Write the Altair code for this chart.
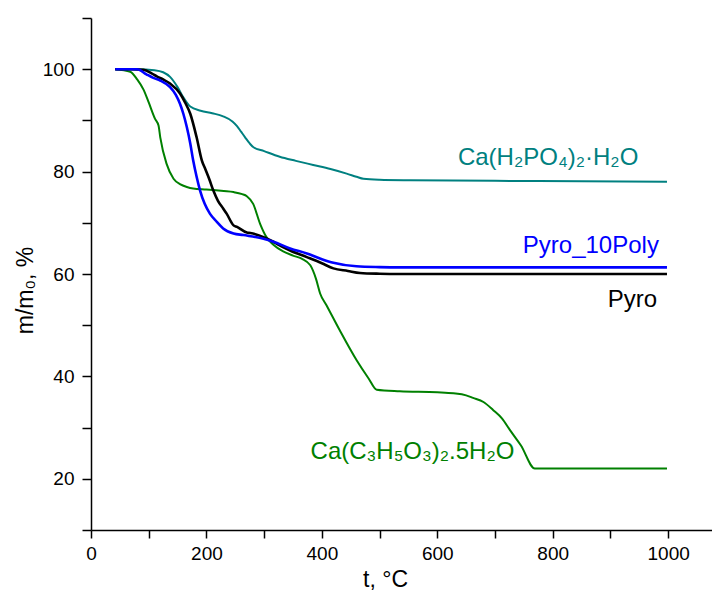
import altair as alt
import pandas as pd

# Thermogravimetric curves: temperature (°C) vs. residual mass (%)
teal_t = [42, 80, 110, 125, 137, 150, 160, 172, 190, 210, 229, 245, 253, 260, 267,
          275, 281, 300, 327, 355, 385, 415, 443, 460, 472, 500, 553, 700, 850, 998]
teal_v = [100, 100, 99.8, 99.4, 98.5, 96.5, 94.5, 92.7, 91.9, 91.4, 90.8, 89.8, 88.9, 87.8, 86.7,
          85.5, 84.8, 84.0, 82.9, 82.1, 81.3, 80.5, 79.6, 79.0, 78.6, 78.4, 78.3, 78.2, 78.1, 78.0]

green_t = [42, 68, 80, 91, 100, 111, 117, 120, 131, 143, 155, 166, 177, 200, 230, 247, 262, 270,
           281, 293, 304, 316, 333, 350, 365, 380, 390, 397, 408, 431, 460, 481, 495, 535, 600,
           628, 650, 662, 680, 697, 712, 726, 745, 769, 800, 900, 998]
green_v = [100, 99.5, 98, 96, 93.5, 90.3, 89, 86.7, 81.5, 78.6, 77.5, 77, 76.7, 76.5, 76.2, 76, 75.6, 75.2,
           73.7, 69.8, 67.2, 65.7, 64.4, 63.6, 63, 61.7, 59, 56.2, 53.9, 49, 43.2, 39.6, 37.4, 37.1, 36.9,
           36.7, 36.3, 35.8, 35, 33.4, 31.8, 29.5, 26.5, 22, 22, 22, 22]

black_t = [42, 70, 91, 105, 114, 125, 137, 154, 163, 172, 183, 192, 198, 205, 212, 220, 229, 235,
           247, 253, 270, 276, 299, 316, 322, 345, 374, 400, 420, 445, 466, 500, 535, 700, 998]
black_v = [100, 100, 99.9, 99.2, 98.6, 98, 97.2, 95.3, 93.5, 91.3, 86.7, 82.2, 80.5, 78.5, 76.3, 74.3, 72.8, 71.8,
           69.5, 69.2, 68.1, 68.0, 67.2, 66.3, 65.9, 64.6, 63.3, 62.1, 61.1, 60.6, 60.2, 60.05, 60.0, 60.0, 60.0]

blue_t = [42, 80, 96, 108, 120, 137, 147, 154, 160, 166, 172, 177, 183, 189, 197, 206, 218, 229,
          247, 264, 299, 316, 345, 374, 400, 420, 460, 500, 535, 700, 998]
blue_v = [100, 100, 99, 98.3, 97.8, 96.5, 95, 93.3, 91.3, 88.7, 85.5, 82.2, 79, 76.3, 73.7, 71.8, 70.2, 68.9,
          67.9, 67.6, 66.9, 66.3, 65.0, 64.0, 62.9, 62.2, 61.5, 61.35, 61.3, 61.3, 61.3]

# Curve labels placed next to their curves (data coordinates)
label_text = ["Ca(H₂PO₄)₂·H₂O", "Pyro_10Poly", "Pyro", "Ca(C₃H₅O₃)₂.5H₂O"]
label_t = [792, 984, 981, 557]
label_v = [82.6, 65.4, 54.9, 25.2]

x_ticks = list(range(0, 1001, 100))
y_ticks = list(range(10, 111, 10))

FONT = "Liberation Sans"

x_scale = alt.Scale(domain=[0, 1076], nice=False, zero=False)
y_scale = alt.Scale(domain=[10, 110], nice=False, zero=False)

x_axis = alt.Axis(
    values=x_ticks, labelExpr="datum.value % 200 == 0 ? format(datum.value, 'd') : ''",
    grid=False, domainColor="black", domainWidth=1.5, tickColor="black", tickWidth=1.5,
    tickSize=8, labelFont=FONT, labelFontSize=19, labelColor="black", labelPadding=6,
    labelFlush=False, title="t, °C", titleFont=FONT, titleFontSize=23,
    titleFontWeight="normal", titleColor="black", titleX=294, titleY=49,
    titleAlign="center", titleBaseline="middle",
)
y_axis = alt.Axis(
    values=y_ticks, labelExpr="datum.value % 20 == 0 ? format(datum.value, 'd') : ''",
    grid=False, domainColor="black", domainWidth=1.5, tickColor="black", tickWidth=1.5,
    tickSize=9, labelFont=FONT, labelFontSize=19, labelColor="black", labelPadding=8,
    labelFlush=False, title="m/m₀, %", titleFont=FONT, titleFontSize=23,
    titleFontWeight="normal", titleColor="black", titleX=-66, titleY=272,
    titleAlign="center", titleBaseline="middle", titleAngle=270,
)


def curve(ts, vs, color, width):
    df = pd.DataFrame({"t": ts, "v": vs})
    return alt.Chart(df).mark_line(
        color=color, strokeWidth=width, interpolate="monotone"
    ).encode(
        x=alt.X("t:Q", scale=x_scale, axis=x_axis),
        y=alt.Y("v:Q", scale=y_scale, axis=y_axis),
    )


def label(i, color, align):
    df = pd.DataFrame({"t": [label_t[i]], "v": [label_v[i]], "txt": [label_text[i]]})
    return alt.Chart(df).mark_text(
        color=color, font=FONT, fontSize=24, align=align, baseline="middle"
    ).encode(
        x=alt.X("t:Q", scale=x_scale),
        y=alt.Y("v:Q", scale=y_scale),
        text="txt:N",
    )


TEAL = "#008080"
GREEN = "#008000"
BLUE = "#0000ff"
BLACK = "#000000"

chart = alt.layer(
    curve(teal_t, teal_v, TEAL, 2),
    curve(green_t, green_v, GREEN, 2),
    curve(black_t, black_v, BLACK, 2.6),
    curve(blue_t, blue_v, BLUE, 2.6),
    label(0, TEAL, "center"),
    label(1, BLUE, "right"),
    label(2, BLACK, "right"),
    label(3, GREEN, "center"),
).properties(
    width=621,
    height=512,
    autosize=alt.AutoSizeParams(type="none"),
    padding={"left": 91, "top": 18, "right": 0, "bottom": 62},
    background="white",
).configure_view(strokeWidth=0)

chart.save("out.html", embed_options={"renderer": "svg", "actions": False})
